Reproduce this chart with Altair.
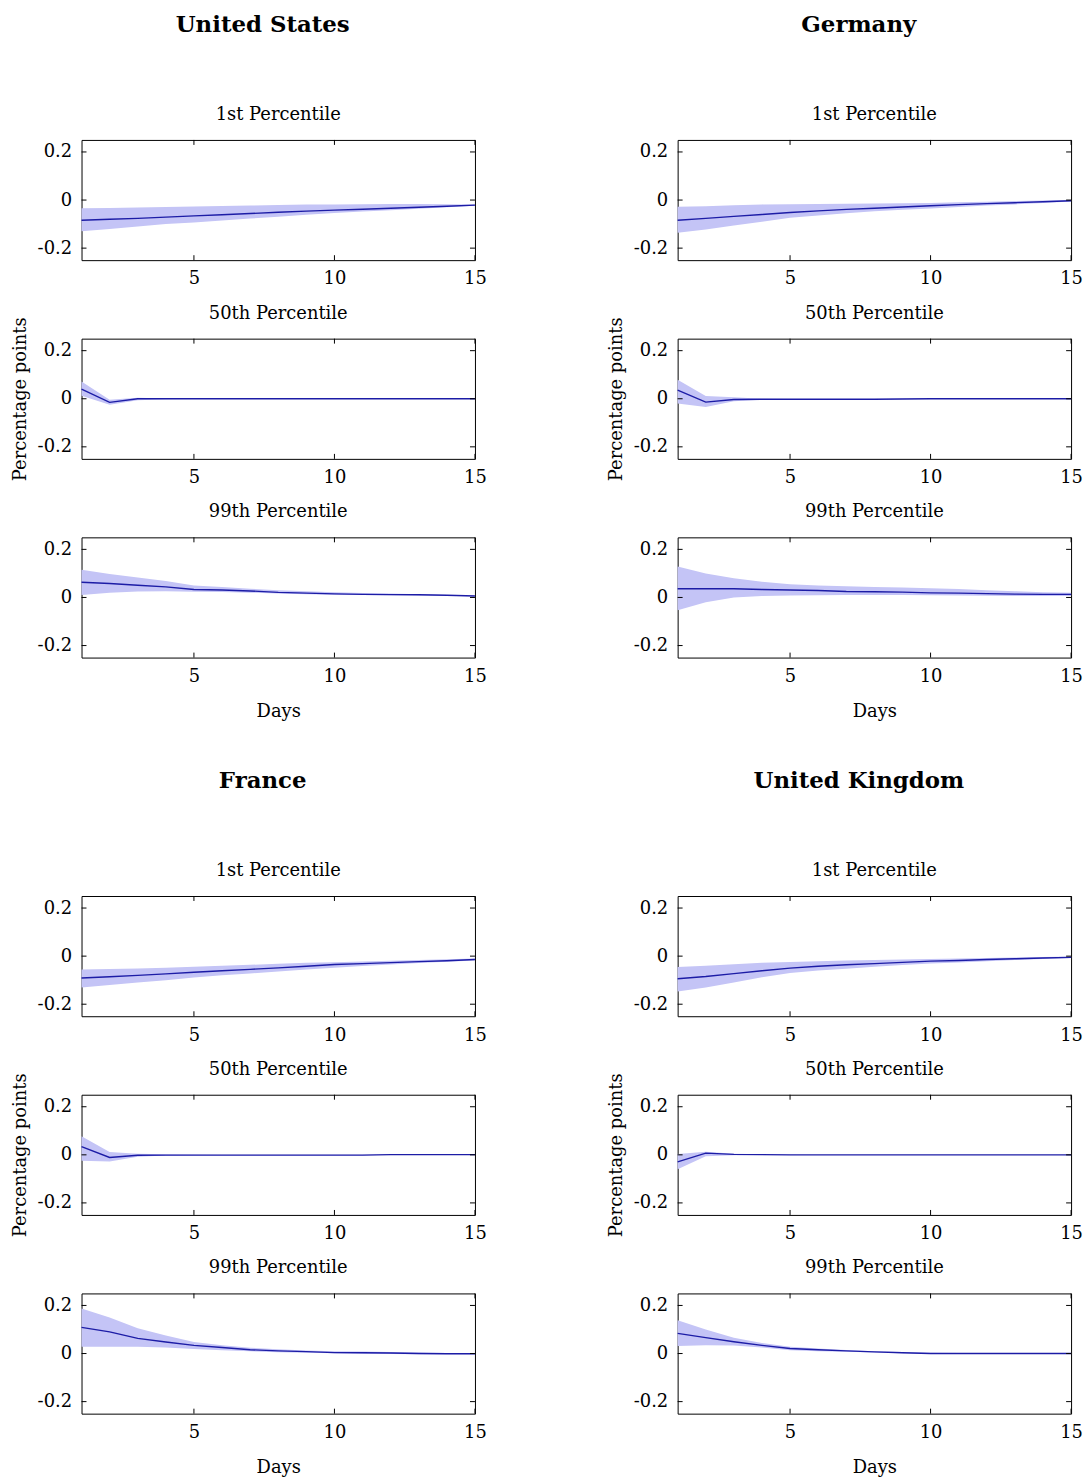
import altair as alt
import pandas as pd

DAYS = list(range(1, 16))
COUNTRIES = ["United States", "Germany", "France", "United Kingdom"]
PERCENTILES = ["1st Percentile", "50th Percentile", "99th Percentile"]
X_TICKS = [5, 10, 15]
Y_TICKS = [-0.2, 0, 0.2]

# ---- United States ----
US_P1_MID = [-0.084, -0.080, -0.076, -0.071, -0.066, -0.061, -0.056, -0.051, -0.046, -0.042, -0.038, -0.034, -0.030, -0.026, -0.021]
US_P1_LO = [-0.130, -0.120, -0.110, -0.100, -0.093, -0.085, -0.077, -0.069, -0.061, -0.054, -0.048, -0.042, -0.036, -0.030, -0.024]
US_P1_HI = [-0.034, -0.033, -0.031, -0.029, -0.027, -0.025, -0.023, -0.021, -0.019, -0.018, -0.017, -0.016, -0.016, -0.017, -0.018]
US_P50_MID = [0.040, -0.015, 0.000, 0.000, 0.000, 0.000, 0.000, 0.000, 0.000, 0.000, 0.000, 0.000, 0.000, 0.000, 0.000]
US_P50_LO = [0.012, -0.025, -0.006, -0.002, -0.001, 0.000, 0.000, 0.000, 0.000, 0.000, 0.000, 0.000, 0.000, 0.000, 0.000]
US_P50_HI = [0.072, -0.004, 0.004, 0.001, 0.000, 0.000, 0.000, 0.000, 0.000, 0.000, 0.000, 0.000, 0.000, 0.000, 0.000]
US_P99_MID = [0.063, 0.058, 0.051, 0.044, 0.033, 0.031, 0.027, 0.021, 0.018, 0.015, 0.013, 0.012, 0.011, 0.009, 0.006]
US_P99_LO = [0.010, 0.020, 0.025, 0.026, 0.024, 0.023, 0.020, 0.016, 0.013, 0.011, 0.010, 0.009, 0.008, 0.007, 0.005]
US_P99_HI = [0.115, 0.098, 0.083, 0.068, 0.050, 0.043, 0.036, 0.030, 0.026, 0.022, 0.019, 0.016, 0.013, 0.010, 0.007]

# ---- Germany ----
DE_P1_MID = [-0.084, -0.076, -0.068, -0.060, -0.052, -0.045, -0.039, -0.034, -0.029, -0.024, -0.019, -0.015, -0.011, -0.007, -0.003]
DE_P1_LO = [-0.136, -0.122, -0.106, -0.090, -0.074, -0.064, -0.055, -0.047, -0.040, -0.035, -0.029, -0.023, -0.018, -0.012, -0.006]
DE_P1_HI = [-0.028, -0.026, -0.022, -0.018, -0.017, -0.016, -0.015, -0.014, -0.013, -0.012, -0.009, -0.007, -0.004, -0.002, 0.000]
DE_P50_MID = [0.036, -0.014, -0.003, -0.002, -0.002, -0.002, -0.002, -0.002, -0.001, 0.000, 0.000, 0.000, 0.000, 0.000, 0.000]
DE_P50_LO = [-0.020, -0.034, -0.010, -0.004, -0.003, -0.003, -0.002, -0.002, -0.001, 0.000, 0.000, 0.000, 0.000, 0.000, 0.000]
DE_P50_HI = [0.079, 0.011, 0.006, 0.000, -0.001, -0.001, -0.001, -0.001, 0.000, 0.000, 0.000, 0.000, 0.000, 0.000, 0.000]
DE_P99_MID = [0.036, 0.036, 0.036, 0.033, 0.031, 0.029, 0.025, 0.024, 0.022, 0.019, 0.018, 0.016, 0.014, 0.013, 0.013]
DE_P99_LO = [-0.053, -0.020, 0.000, 0.006, 0.008, 0.009, 0.010, 0.010, 0.010, 0.009, 0.008, 0.007, 0.006, 0.006, 0.006]
DE_P99_HI = [0.129, 0.100, 0.080, 0.065, 0.055, 0.050, 0.047, 0.044, 0.041, 0.038, 0.035, 0.030, 0.026, 0.022, 0.020]

# ---- France ----
FR_P1_MID = [-0.091, -0.086, -0.080, -0.074, -0.067, -0.061, -0.055, -0.049, -0.042, -0.035, -0.031, -0.027, -0.023, -0.019, -0.014]
FR_P1_LO = [-0.130, -0.120, -0.110, -0.100, -0.089, -0.080, -0.072, -0.064, -0.056, -0.048, -0.041, -0.035, -0.029, -0.023, -0.018]
FR_P1_HI = [-0.056, -0.054, -0.051, -0.048, -0.044, -0.040, -0.036, -0.032, -0.028, -0.025, -0.022, -0.019, -0.016, -0.013, -0.010]
FR_P50_MID = [0.034, -0.011, -0.002, -0.001, -0.001, -0.001, -0.001, -0.001, -0.001, -0.001, -0.001, 0.001, 0.001, 0.001, 0.001]
FR_P50_LO = [-0.025, -0.028, -0.008, -0.003, -0.002, -0.002, -0.002, -0.002, -0.002, -0.002, -0.002, 0.000, 0.000, 0.000, 0.000]
FR_P50_HI = [0.077, 0.012, 0.004, 0.002, 0.001, 0.000, 0.000, 0.000, 0.000, 0.000, 0.000, 0.001, 0.001, 0.001, 0.001]
FR_P99_MID = [0.109, 0.090, 0.063, 0.048, 0.034, 0.025, 0.016, 0.011, 0.008, 0.004, 0.003, 0.002, 0.000, -0.001, -0.001]
FR_P99_LO = [0.028, 0.028, 0.028, 0.025, 0.019, 0.014, 0.009, 0.005, 0.003, 0.001, -0.001, -0.002, -0.003, -0.003, -0.003]
FR_P99_HI = [0.187, 0.150, 0.105, 0.075, 0.048, 0.034, 0.024, 0.018, 0.013, 0.010, 0.008, 0.006, 0.004, 0.002, 0.001]

# ---- United Kingdom ----
UK_P1_MID = [-0.094, -0.085, -0.073, -0.061, -0.050, -0.042, -0.036, -0.031, -0.026, -0.021, -0.018, -0.014, -0.011, -0.008, -0.005]
UK_P1_LO = [-0.147, -0.130, -0.110, -0.088, -0.070, -0.060, -0.052, -0.044, -0.037, -0.031, -0.026, -0.021, -0.016, -0.012, -0.008]
UK_P1_HI = [-0.045, -0.040, -0.034, -0.028, -0.024, -0.021, -0.018, -0.016, -0.014, -0.012, -0.010, -0.008, -0.006, -0.004, -0.002]
UK_P50_MID = [-0.029, 0.007, 0.002, 0.001, 0.000, 0.000, 0.000, 0.000, 0.000, 0.000, 0.000, 0.000, 0.000, 0.000, 0.000]
UK_P50_LO = [-0.060, -0.006, -0.002, -0.001, 0.000, 0.000, 0.000, 0.000, 0.000, 0.000, 0.000, 0.000, 0.000, 0.000, 0.000]
UK_P50_HI = [0.003, 0.013, 0.004, 0.002, 0.001, 0.000, 0.000, 0.000, 0.000, 0.000, 0.000, 0.000, 0.000, 0.000, 0.000]
UK_P99_MID = [0.084, 0.066, 0.049, 0.034, 0.021, 0.016, 0.011, 0.007, 0.003, 0.000, 0.000, 0.000, 0.000, 0.000, 0.000]
UK_P99_LO = [0.031, 0.034, 0.033, 0.025, 0.014, 0.010, 0.007, 0.004, 0.001, -0.001, -0.001, -0.001, -0.001, -0.001, -0.001]
UK_P99_HI = [0.138, 0.100, 0.066, 0.044, 0.028, 0.021, 0.015, 0.010, 0.006, 0.003, 0.002, 0.001, 0.001, 0.001, 0.001]

SERIES = {
    ("United States", "1st Percentile"): (US_P1_MID, US_P1_LO, US_P1_HI),
    ("United States", "50th Percentile"): (US_P50_MID, US_P50_LO, US_P50_HI),
    ("United States", "99th Percentile"): (US_P99_MID, US_P99_LO, US_P99_HI),
    ("Germany", "1st Percentile"): (DE_P1_MID, DE_P1_LO, DE_P1_HI),
    ("Germany", "50th Percentile"): (DE_P50_MID, DE_P50_LO, DE_P50_HI),
    ("Germany", "99th Percentile"): (DE_P99_MID, DE_P99_LO, DE_P99_HI),
    ("France", "1st Percentile"): (FR_P1_MID, FR_P1_LO, FR_P1_HI),
    ("France", "50th Percentile"): (FR_P50_MID, FR_P50_LO, FR_P50_HI),
    ("France", "99th Percentile"): (FR_P99_MID, FR_P99_LO, FR_P99_HI),
    ("United Kingdom", "1st Percentile"): (UK_P1_MID, UK_P1_LO, UK_P1_HI),
    ("United Kingdom", "50th Percentile"): (UK_P50_MID, UK_P50_LO, UK_P50_HI),
    ("United Kingdom", "99th Percentile"): (UK_P99_MID, UK_P99_LO, UK_P99_HI),
}

rows = []
for (c, p), (m, lo, hi) in SERIES.items():
    for d, mm, ll, hh in zip(DAYS, m, lo, hi):
        rows.append({"country": c, "pct": p, "day": d, "mid": mm, "lo": ll, "hi": hh})
df = pd.DataFrame(rows)
xt = pd.DataFrame({"t": X_TICKS})
yt = pd.DataFrame({"v": Y_TICKS})

FONT = "DejaVu Serif"
LINE = "#1c1ca6"
BAND = "#c4c4f6"
W, H, TK = 396, 121, 5

xs = alt.Scale(domain=[1, 15], nice=False, zero=False)
ys = alt.Scale(domain=[-0.25, 0.25], nice=False, zero=False)
YLAB = "datum.value == 0 ? '0' : (datum.value < 0 ? '-' : '') + format(abs(datum.value), '.1f')"


def panel(country, pct, idx):
    d = df[(df.country == country) & (df.pct == pct)]
    xaxis = alt.Axis(values=X_TICKS, labelFlush=False, title="Days" if idx == 2 else "",
                     titlePadding=17)
    yaxis = alt.Axis(values=Y_TICKS, labelExpr=YLAB, title="Percentage points" if idx == 1 else "",
                     titlePadding=8)
    X = alt.X("day:Q", scale=xs, axis=xaxis)
    base = alt.Chart(d)
    band = base.mark_area(color=BAND, opacity=1).encode(
        x=X, y=alt.Y("lo:Q", scale=ys, axis=yaxis), y2="hi:Q",
    )
    line = base.mark_line(color=LINE, strokeWidth=1.4).encode(
        x=X, y=alt.Y("mid:Q", scale=ys, axis=yaxis),
    )
    tx = alt.Chart(xt)
    ty = alt.Chart(yt)
    XT = alt.X("t:Q", scale=xs, axis=xaxis)
    YT = alt.Y("v:Q", scale=ys, axis=yaxis)
    t1 = tx.mark_rule(color="black").encode(x=XT, y=alt.value(0), y2=alt.value(TK))
    t2 = tx.mark_rule(color="black").encode(x=XT, y=alt.value(H), y2=alt.value(H - TK))
    t3 = ty.mark_rule(color="black").encode(y=YT, x=alt.value(0), x2=alt.value(TK))
    t4 = ty.mark_rule(color="black").encode(y=YT, x=alt.value(W), x2=alt.value(W - TK))
    return alt.layer(band, line, t1, t2, t3, t4).properties(
        width=W, height=H,
        title=alt.TitleParams(pct, font=FONT, fontSize=18, fontWeight="normal", color="black",
                              offset=16, dy=22 if idx == 1 else 0),
    )


def column(country):
    return alt.vconcat(
        *[panel(country, p, i) for i, p in enumerate(PERCENTILES)],
        spacing=79, bounds="flush",
        title=alt.TitleParams(country, font=FONT, fontSize=23, fontWeight="bold", color="black",
                              offset=69, anchor="middle", dx=14),
    )


row1 = alt.hconcat(column("United States"), column("Germany"), spacing=120)
row2 = alt.hconcat(column("France"), column("United Kingdom"), spacing=120)

chart = alt.vconcat(row1, row2, spacing=49).properties(
    padding={"left": 2, "top": 1, "right": 0, "bottom": 0}
).configure_view(
    stroke="black", strokeWidth=1
).configure_axis(
    domain=False, ticks=False, grid=False,
    labelFont=FONT, labelFontSize=18, labelColor="black", labelPadding=10,
    titleFont=FONT, titleFontSize=18, titleFontWeight="normal", titleColor="black",
)

chart.save("out.html", embed_options={"renderer": "svg", "actions": False})
